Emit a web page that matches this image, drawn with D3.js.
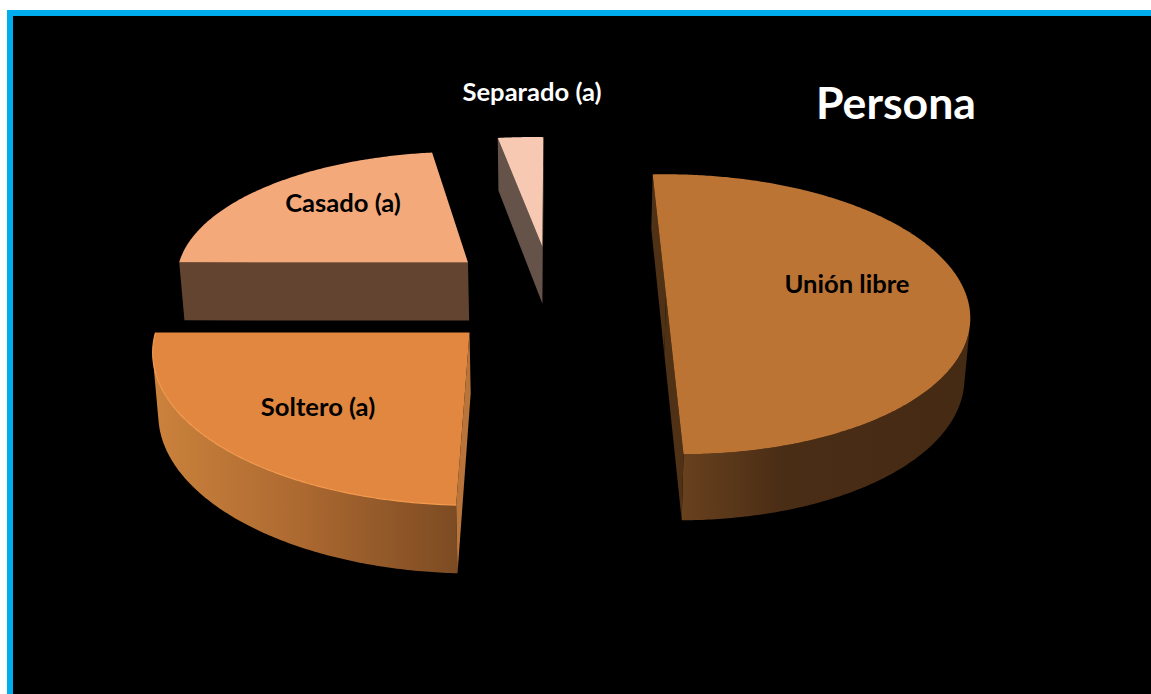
<!DOCTYPE html>
<html>
<head>
<meta charset="utf-8">
<script src="https://cdn.jsdelivr.net/npm/d3@7/dist/d3.min.js"></script>
<style>
html,body{margin:0;padding:0;background:#fff;overflow:hidden}
svg{display:block}
text{font-family:Lato,"Open Sans",sans-serif;font-weight:700}
</style>
</head>
<body>
<div id="chart"></div>
<script>
const categories = ["Unión libre", "Soltero (a)", "Casado (a)", "Separado (a)"];
const values = [35, 17, 16, 2];
const title = "Persona";

const topColors = ["#BC7434", "#E2873F", "#F4A97B", "#F7C9B2"];
const radialColors = ["#4F3115", "#B8743A", "#634430", "#65534A"];
const wallStops = [
  [["0%", "#68411E"], ["35%", "#4A2D15"], ["100%", "#452A14"]],
  [["0%", "#CB823C"], ["50%", "#AB6830"], ["100%", "#7C4B23"]],
  [["0%", "#634430"], ["100%", "#634430"]],
  [["0%", "#65534A"], ["100%", "#65534A"]]
];
const labelColors = ["#000", "#000", "#000", "#fff"];
const labelAnchors = [[847, 283], [318, 406], [343, 202], [532, 91]];

// small per-slice corrections of the projected shape
const shapeX = [0.975, 1, 0.985, 1];
const shapeY = [1, 1.012, 0.982, 1];
const shiftX = [0, -1, 2, 0];
const shiftY = [-2, 1, 0, 0];
const tiltY = [10, 0, 0, 0];

const W = 1151, H = 694;
const firstAngle = 2.6 * Math.PI / 180;
const explosion = 0.375;
const Cx = 552, Cy = 295, A = 303, B = 136.4, k = 0.136;
const shear = Math.tan(firstAngle);

function project(X, Y) {
  const w = 1 + k * Y;
  return [Cx + A * (X - shear * Y) / w, Cy - B * Y / w];
}
function drop(p) {
  return [p[0] - 0.014 * (p[0] - Cx), p[1] + 58 + 0.042 * (p[1] - 262)];
}

const svg = d3.select("#chart").append("svg").attr("width", W).attr("height", H);
svg.append("rect").attr("x", 7).attr("y", 10).attr("width", W - 7).attr("height", H - 10).attr("fill", "#00AEEF");
svg.append("rect").attr("x", 13).attr("y", 16).attr("width", W - 13).attr("height", H - 16).attr("fill", "#000");

const defs = svg.append("defs");
wallStops.forEach((stops, i) => {
  const g = defs.append("linearGradient").attr("id", "wall" + i);
  stops.forEach(s => g.append("stop").attr("offset", s[0]).attr("stop-color", s[1]));
});

const pie = d3.pie().sort(null).startAngle(firstAngle).endAngle(firstAngle + 2 * Math.PI);
const arcs = pie(values);
const line = d3.line();

const slices = arcs.map((d, i) => {
  const mid = (d.startAngle + d.endAngle) / 2;
  const ox = explosion * Math.sin(mid), oy = explosion * Math.cos(mid);
  const n = Math.max(4, Math.ceil((d.endAngle - d.startAngle) / 0.01));
  const a0 = project(ox, oy);
  const apex = [a0[0] + shiftX[i], a0[1] + shiftY[i]];
  const rim = d3.range(n + 1).map(j => {
    const a = d.startAngle + (d.endAngle - d.startAngle) * j / n;
    const p = project(ox + Math.sin(a), oy + Math.cos(a));
    return [
      a0[0] + (p[0] - a0[0]) * shapeX[i] + shiftX[i],
      a0[1] + (p[1] - a0[1]) * shapeY[i] + shiftY[i] - tiltY[i] * Math.sin(a)
    ];
  });
  return { i, apex, rim };
});

function faces(p, q) {
  const dp = drop(p);
  return (q[0] - p[0]) * (dp[1] - p[1]) - (q[1] - p[1]) * (dp[0] - p[0]) < 0;
}

// back to front
[3, 2, 0, 1].forEach(idx => {
  const s = slices[idx];
  const g = svg.append("g");
  const rimFirst = s.rim[0], rimLast = s.rim[s.rim.length - 1];

  // outer wall: only the rim stretch whose quads face the viewer
  const facing = s.rim.slice(0, -1).map((p, j) => faces(p, s.rim[j + 1]));
  const firstF = facing.indexOf(true), lastF = facing.lastIndexOf(true);
  if (firstF >= 0) {
    const top = s.rim.slice(firstF, lastF + 2);
    const poly = top.concat(top.slice().reverse().map(drop));
    g.append("path").attr("d", line(poly) + "Z").attr("fill", "url(#wall" + idx + ")");
  }

  // radial faces
  [[s.apex, rimFirst], [rimLast, s.apex]].forEach(([p, q]) => {
    if (faces(p, q)) {
      g.append("path")
        .attr("d", line([p, q, drop(q), drop(p)]) + "Z")
        .attr("fill", radialColors[idx]);
    }
  });

  // top cap
  g.append("path")
    .attr("d", line([s.apex].concat(s.rim)) + "Z")
    .attr("fill", topColors[idx]);
  if (idx === 1) {
    g.append("path")
      .attr("d", line(s.rim))
      .attr("fill", "none")
      .attr("stroke", "#F49B50")
      .attr("stroke-width", 1.2);
  }
});

categories.forEach((c, i) => {
  svg.append("text")
    .attr("x", labelAnchors[i][0])
    .attr("y", labelAnchors[i][1])
    .attr("text-anchor", "middle")
    .attr("dominant-baseline", "central")
    .attr("font-size", 25.6)
    .attr("fill", labelColors[i])
    .text(c);
});

svg.append("text")
  .attr("x", 896).attr("y", 101)
  .attr("text-anchor", "middle")
  .attr("dominant-baseline", "central")
  .attr("font-size", 44.6)
  .attr("fill", "#fff")
  .text(title);
</script>
</body>
</html>
